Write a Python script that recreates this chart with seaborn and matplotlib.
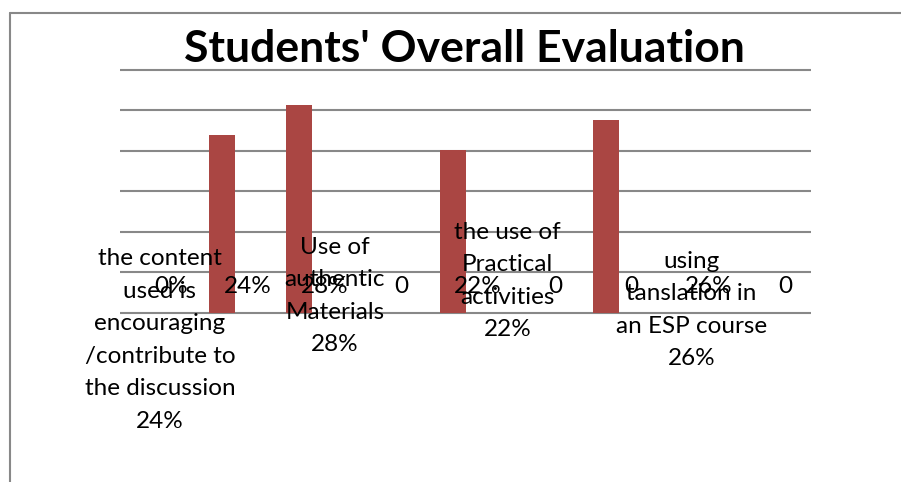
import numpy as np
import pandas as pd
import matplotlib
matplotlib.use("Agg")
import matplotlib.pyplot as plt
from matplotlib.lines import Line2D
import seaborn as sns

# ================= DATOS =================
TITULO = "Students' Overall Evaluation"
# 9 huecos del eje (estilo Excel: dos series, la segunda vacía)
slots = list(range(9))
valores_serie1 = [0, 24, 28, 0, 22, 0, 26, 0, 0]
valores_serie2 = [0, 0, 0, 0, 0, 0, 0, 0, 0]
etiquetas_datos = ["0%", "24%", "28%", "0", "22%", "0", "0", "26%", "0"]
categorias = [
    "the content\nused is\nencouraging\n/contribute to\nthe discussion\n24%",
    "Use of\nauthentic\nMaterials\n28%",
    "the use of\nPractical\nactivities\n22%",
    "using\ntanslation in\nan ESP course\n26%",
]

# ================= ESTILO =================
ROJO = "#AA4643"
GRIS = "#888888"
FUENTE = ["Lato", "DejaVu Sans"]
TAM = 17.5
# posiciones de las etiquetas de categoría (x en huecos, y en unidades de datos)
POS_CATEGORIAS = [(0.02, -3.64), (2.30, 2.3), (4.55, 4.3), (6.94, 0.4)]

sns.set_style("white")
plt.rcParams["font.family"] = FUENTE
plt.rcParams["text.color"] = "black"

df = pd.DataFrame({
    "slot": slots * 2,
    "valor": valores_serie1 + valores_serie2,
    "serie": ["S1"] * len(slots) + ["S2"] * len(slots),
})

fig = plt.figure(figsize=(9.01, 4.82), dpi=100)
ax = fig.add_axes([120 / 901, 0.3461, 691 / 901, 0.5141])

sns.barplot(data=df, x="slot", y="valor", hue="serie", dodge=True, width=0.67,
            palette={"S1": ROJO, "S2": ROJO}, legend=False, ax=ax,
            linewidth=0, saturation=1)

ax.set_xlim(-0.5, 8.5)
ax.set_ylim(-0.3, 33.1)
ax.set_yticks(np.linspace(0, 32.8, 7))
ax.set_xticks([])
ax.set_yticklabels([])
ax.tick_params(left=False, bottom=False)
ax.yaxis.grid(True, color=GRIS, linewidth=1.5)
ax.set_axisbelow(True)
for s in ax.spines.values():
    s.set_visible(False)
ax.set_xlabel("")
ax.set_ylabel("")

# etiquetas de datos sobre la segunda serie
for i, txt in zip(slots, etiquetas_datos):
    ax.text(i + 0.165, 3.5, txt, ha="center", va="center", fontsize=TAM,
            color="black")

# etiquetas de categoría
for (x, y), txt in zip(POS_CATEGORIAS, categorias):
    ax.text(x, y, txt, ha="center", va="center", fontsize=TAM,
            linespacing=1.68, color="black")

fig.text(464 / 901, 1 - 49 / 482, TITULO, ha="center", va="center",
         fontsize=32, fontweight="bold", color="black")

# marco del gráfico (solo borde superior e izquierdo visibles)
fig.add_artist(Line2D([10 / 901, 1], [1 - 13 / 482] * 2, color=GRIS, lw=1.5))
fig.add_artist(Line2D([10 / 901] * 2, [0, 1 - 13 / 482], color=GRIS, lw=1.5))

fig.savefig("out.png", dpi=100)
